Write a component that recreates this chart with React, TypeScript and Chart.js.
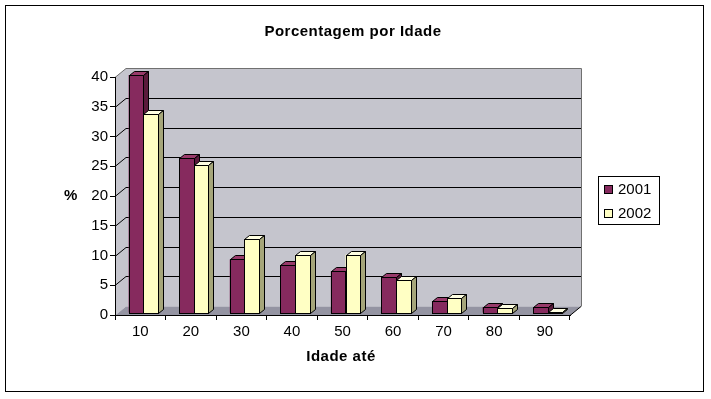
import React, { useEffect, useRef } from "react";
import { Chart, registerables } from "chart.js";

Chart.register(...registerables);

// ---- data ----
const categories = ["10", "20", "30", "40", "50", "60", "70", "80", "90"];
const series2001 = [40, 26, 9, 8, 7, 6, 2, 1, 1];
const series2002 = [33.5, 24.8, 12.5, 9.8, 9.8, 5.6, 2.5, 0.9, 0.2];
const seriesLabels = ["2001", "2002"];
const yMin = 0;
const yMax = 40;
const yStep = 5;
const chartTitle = "Porcentagem por Idade";
const xTitle = "Idade até";
const yTitle = "%";

// ---- styles ----
const FONT = "'Liberation Sans', Arial, sans-serif";
const FRONT = ["#862A5E", "#FFFFC4"];
const TOP = ["#983A6A", "#FFFFE2"];
const SIDE = ["#5A1A3B", "#A6A67A"];
const WALL = "#C5C5CD";
const FLOOR = "#9494A2";
const DX = 11; // wall depth
const DY = -9;
const SX = 3; // bar shift into depth
const SY = -2;
const BDX = 5; // bar depth
const BDY = -4;

const wallPlugin = {
  id: "wall3d",
  beforeDraw(chart: any) {
    const ctx = chart.ctx;
    const ys = chart.scales.y;
    const a = chart.chartArea;
    ctx.save();
    ctx.fillStyle = "#fff";
    ctx.fillRect(0, 0, chart.width, chart.height);
    const L = a.left, R = a.right;
    const T = Math.round(ys.getPixelForValue(yMax)) + 0.5;
    const B = Math.round(ys.getPixelForValue(yMin)) + 0.5;
    // side wall
    ctx.fillStyle = WALL;
    ctx.beginPath();
    ctx.moveTo(L, T);
    ctx.lineTo(L + DX, T + DY);
    ctx.lineTo(L + DX, B + DY);
    ctx.lineTo(L, B);
    ctx.closePath();
    ctx.fill();
    // back wall
    ctx.fillRect(L + DX, T + DY, R - L, B - T);
    // floor
    ctx.fillStyle = FLOOR;
    ctx.beginPath();
    ctx.moveTo(L, B);
    ctx.lineTo(R, B);
    ctx.lineTo(R + DX, B + DY);
    ctx.lineTo(L + DX, B + DY);
    ctx.closePath();
    ctx.fill();
    // gridlines
    ctx.lineWidth = 1;
    ctx.strokeStyle = "#000";
    for (let v = yMin + yStep; v < yMax; v += yStep) {
      const y = Math.round(ys.getPixelForValue(v)) + 0.5;
      ctx.beginPath();
      ctx.moveTo(L, y);
      ctx.lineTo(L + DX, y + DY);
      ctx.lineTo(R + DX, y + DY);
      ctx.stroke();
    }
    // wall edges
    ctx.strokeStyle = "#707070";
    ctx.beginPath();
    ctx.moveTo(L, T);
    ctx.lineTo(L + DX, T + DY);
    ctx.lineTo(R + DX + 0.5, T + DY);
    ctx.lineTo(R + DX + 0.5, B + DY);
    ctx.stroke();
    ctx.strokeStyle = "#000";
    ctx.beginPath();
    ctx.moveTo(R, B);
    ctx.lineTo(R + DX, B + DY);
    ctx.stroke();
    ctx.restore();
  },
  beforeDatasetsDraw(chart: any) {
    chart.ctx.save();
    chart.ctx.translate(SX, SY);
  },
  afterDatasetsDraw(chart: any) {
    const ctx = chart.ctx;
    const metas = chart.data.datasets.map((_: any, i: number) => chart.getDatasetMeta(i));
    ctx.lineWidth = 1;
    ctx.strokeStyle = "#000";
    for (let j = 0; j < categories.length; j++) {
      metas.forEach((meta: any, i: number) => {
        const el = meta.data[j];
        if (!el) return;
        const p = el.getProps(["x", "y", "base", "width"], true);
        const l = Math.round(p.x - p.width / 2) + 0.5;
        const r = Math.round(p.x + p.width / 2) + 0.5;
        const t = Math.round(p.y) + 0.5;
        const b = Math.round(p.base) + 0.5;
        // front
        ctx.fillStyle = FRONT[i];
        ctx.fillRect(l, t, r - l, b - t);
        ctx.strokeRect(l, t, r - l, b - t);
        // top
        ctx.fillStyle = TOP[i];
        ctx.beginPath();
        ctx.moveTo(l, t);
        ctx.lineTo(l + BDX, t + BDY);
        ctx.lineTo(r + BDX, t + BDY);
        ctx.lineTo(r, t);
        ctx.closePath();
        ctx.fill();
        ctx.stroke();
        // side
        ctx.fillStyle = SIDE[i];
        ctx.beginPath();
        ctx.moveTo(r, t);
        ctx.lineTo(r + BDX, t + BDY);
        ctx.lineTo(r + BDX, b + BDY);
        ctx.lineTo(r, b);
        ctx.closePath();
        ctx.fill();
        ctx.stroke();
      });
    }
    ctx.restore();
  },
  afterDraw(chart: any) {
    const ctx = chart.ctx;
    ctx.save();
    // outer border
    ctx.strokeStyle = "#000";
    ctx.lineWidth = 1;
    ctx.strokeRect(5.5, 5.5, 698, 386);
    // titles
    ctx.fillStyle = "#000";
    ctx.textAlign = "center";
    ctx.textBaseline = "middle";
    ctx.font = `bold 15px ${FONT}`;
    (ctx as any).letterSpacing = "0.5px";
    ctx.fillText(chartTitle, 353, 32);
    ctx.fillText(xTitle, 341, 357);
    ctx.fillText(yTitle, 71, 196);
    (ctx as any).letterSpacing = "0px";
    // legend
    ctx.fillStyle = "#fff";
    ctx.fillRect(598.5, 176.5, 61, 48);
    ctx.strokeRect(598.5, 176.5, 61, 48);
    ctx.font = `15px ${FONT}`;
    ctx.textAlign = "left";
    chart.data.datasets.forEach((ds: any, i: number) => {
      const cy = 189.5 + i * 24;
      ctx.fillStyle = FRONT[i];
      ctx.fillRect(604.5, cy - 4, 8, 8);
      ctx.strokeRect(604.5, cy - 4, 8, 8);
      ctx.fillStyle = "#000";
      ctx.fillText(ds.label, 618, cy);
    });
    ctx.restore();
  },
};

export default function App() {
  const ref = useRef<HTMLCanvasElement | null>(null);
  useEffect(() => {
    if (!ref.current) return;
    Chart.defaults.font.family = FONT;
    Chart.defaults.font.size = 15;
    Chart.defaults.color = "#000";
    const chart = new Chart(ref.current, {
      type: "bar",
      data: {
        labels: categories,
        datasets: [
          { label: seriesLabels[0], data: series2001, backgroundColor: FRONT[0], borderWidth: 0 },
          { label: seriesLabels[1], data: series2002, backgroundColor: FRONT[1], borderWidth: 0 },
        ],
      },
      options: {
        responsive: false,
        animation: false,
        devicePixelRatio: 1,
        layout: { padding: { left: 0, top: 77, right: 141, bottom: 0 } },
        datasets: { bar: { categoryPercentage: 0.58, barPercentage: 1, clip: false as any } },
        plugins: {
          legend: { display: false },
          title: { display: false },
          tooltip: { enabled: false },
        },
        scales: {
          x: {
            grid: { drawOnChartArea: false, drawTicks: true, tickLength: 5, color: "#000", offset: true },
            border: { display: true, color: "#000" },
            ticks: { color: "#000", padding: 3, font: { size: 15 } },
            afterFit: (s: any) => {
              s.height = 84;
            },
          },
          y: {
            min: yMin,
            max: yMax,
            ticks: { stepSize: yStep, color: "#000", padding: 2, font: { size: 15 } },
            grid: { drawOnChartArea: false, tickLength: 5, color: "#000" },
            border: { display: true, color: "#000" },
            afterFit: (s: any) => {
              s.width = 115;
            },
          },
        },
      },
      plugins: [wallPlugin],
    });
    return () => chart.destroy();
  }, []);
  return (
    <div style={{ position: "absolute", left: 0, top: 0, width: 711, height: 399 }}>
      <canvas ref={ref} width={711} height={399} style={{ display: "block" }} />
    </div>
  );
}
